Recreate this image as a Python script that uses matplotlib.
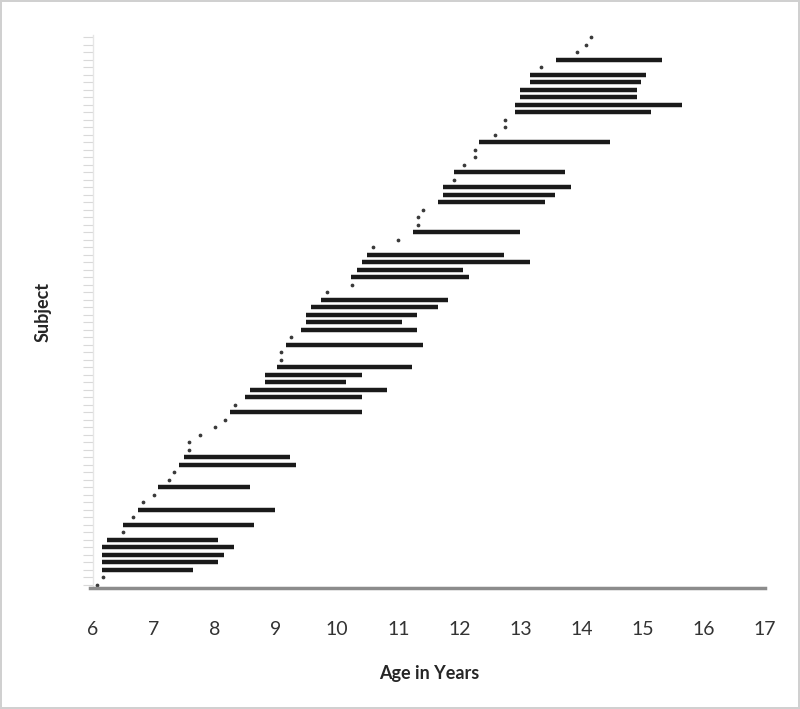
import matplotlib.pyplot as plt
import numpy as np

# Idade na primeira e na ultima visita de cada sujeito (None = so uma visita)
first_visit = [6.07, 6.17, 6.15, 6.15, 6.15, 6.15, 6.23, 6.50, 6.49, 6.66,
               6.74, 6.82, 7.00, 7.07, 7.24, 7.33, 7.41, 7.49, 7.58, 7.58,
               7.75, 8.00, 8.17, 8.24, 8.32, 8.49, 8.57, 8.82, 8.82, 9.01,
               9.08, 9.08, 9.16, 9.24, 9.40, 9.49, 9.49, 9.57, 9.74, 9.83,
               10.24, 10.23, 10.33, 10.41, 10.49, 10.59, 11.00, 11.24, 11.32, 11.32,
               11.41, 11.65, 11.73, 11.73, 11.91, 11.91, 12.08, 12.25, 12.25, 12.32,
               12.58, 12.75, 12.75, 12.91, 12.91, 13.00, 13.00, 13.16, 13.16, 13.33,
               13.58, 13.92, 14.08, 14.16]
last_visit = [None, None, 7.64, 8.05, 8.14, 8.31, 8.05, None, 8.64, None,
              8.98, None, None, 8.57, None, None, 9.32, 9.22, None, None,
              None, None, None, 10.40, None, 10.40, 10.82, 10.15, 10.40, 11.23,
              None, None, 11.41, None, 11.31, 11.06, 11.31, 11.65, 11.81, None,
              None, 12.15, 12.06, 13.15, 12.73, None, None, 12.99, None, None,
              None, 13.40, 13.56, 13.82, None, 13.73, None, None, None, 14.47,
              None, None, None, 15.14, 15.65, 14.90, 14.90, 14.98, 15.06, None,
              15.32, None, None, None]
age_ticks = list(range(6, 18))

subjects = np.arange(len(first_visit))
has_range = np.array([v is not None for v in last_visit])
ends = np.array([v if v is not None else np.nan for v in last_visit])
starts = np.array(first_visit)

plt.rcParams['font.family'] = ['Lato', 'DejaVu Sans']

fig = plt.figure(figsize=(8, 7.09), dpi=100)
fig.patch.set_edgecolor('#d0d0d0')
fig.patch.set_linewidth(1.5)
ax = fig.add_axes([0.116, 0.1707, 0.84, 0.78])

# Sujeitos com mais de uma visita: linha do inicio ao fim
ax.hlines(subjects[has_range], starts[has_range], ends[has_range],
          color='#1a1a1a', linewidth=3.2)
# Sujeitos com uma so visita: um ponto
ax.plot(starts[~has_range], subjects[~has_range], linestyle='none',
        marker='o', markersize=1.7, color='#3a3a3a')

ax.set_xlim(6, 17)
ax.set_ylim(-0.4, 73.3)
ax.set_xticks(age_ticks)
ax.set_xticklabels([str(a) for a in age_ticks])
ax.set_yticks(subjects)
ax.set_yticklabels([])

for side in ['top', 'right']:
    ax.spines[side].set_visible(False)
ax.spines['left'].set_color('#e6e6e6')
ax.spines['left'].set_linewidth(1)
ax.spines['bottom'].set_color('#8c8c8c')
ax.spines['bottom'].set_linewidth(2.5)
ax.spines['bottom'].set_bounds(5.95, 17)

ax.tick_params(axis='x', length=0, pad=24, labelsize=14, labelcolor='#333333')
ax.tick_params(axis='y', length=7, width=0.8, color='#d9d9d9')

ax.set_xlabel('Age in Years', fontsize=13, fontweight='bold', color='#262626',
              labelpad=19)
ax.set_ylabel('Subject', fontsize=13, fontweight='bold', color='#262626',
              labelpad=19)

fig.savefig('out.png', dpi=100, edgecolor=fig.get_edgecolor())
